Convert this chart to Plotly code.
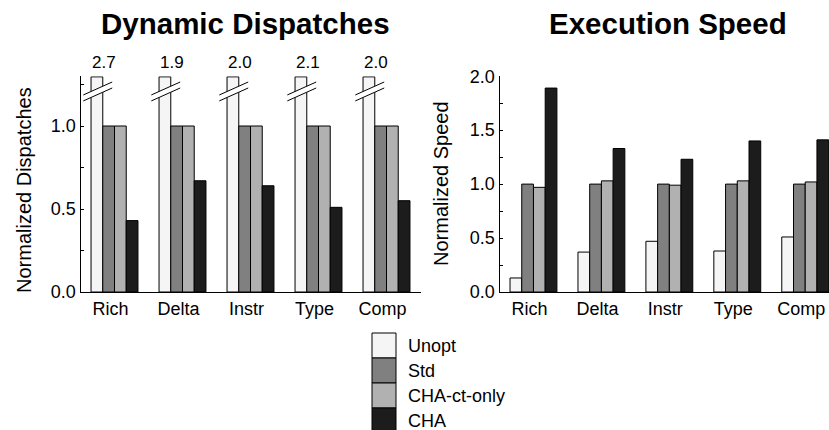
import numpy as np
import plotly.graph_objects as go

# ---------------- data ----------------
categories = ["Rich", "Delta", "Instr", "Type", "Comp"]
series_names = ["Unopt", "Std", "CHA-ct-only", "CHA"]

disp_unopt = [2.7, 1.9, 2.0, 2.1, 2.0]
disp_std = [1.0, 1.0, 1.0, 1.0, 1.0]
disp_chact = [1.0, 1.0, 1.0, 1.0, 1.0]
disp_cha = [0.43, 0.67, 0.64, 0.51, 0.55]

speed_unopt = [0.13, 0.37, 0.47, 0.38, 0.51]
speed_std = [1.0, 1.0, 1.0, 1.0, 1.0]
speed_chact = [0.97, 1.03, 0.99, 1.03, 1.02]
speed_cha = [1.89, 1.33, 1.23, 1.40, 1.41]

disp_label_text = ["2.7", "1.9", "2.0", "2.1", "2.0"]

# ---------------- style ----------------
colors = ["#f5f5f5", "#808080", "#b1b1b1", "#1c1c1c"]
FONT = "Liberation Sans, Arial, Helvetica, sans-serif"
W, H = 829, 430
BARGAP = 0.31
LEFT_TOP = 1.3
CAP = 1.296  # visible height of clipped (broken) bars

xpos = np.arange(len(categories))

def px_x(p):
    return p / W

def px_y(p):
    return 1 - p / H

fig = go.Figure()

disp_series = [np.minimum(disp_unopt, CAP), disp_std, disp_chact, disp_cha]
disp_true = [disp_unopt, disp_std, disp_chact, disp_cha]
speed_series = [speed_unopt, speed_std, speed_chact, speed_cha]

for k, name in enumerate(series_names):
    fig.add_trace(go.Bar(
        x=xpos, y=disp_series[k], name=name, customdata=disp_true[k],
        hovertemplate="%{customdata}<extra>" + name + "</extra>",
        marker=dict(color=colors[k], line=dict(color="black", width=1)),
        xaxis="x", yaxis="y", offsetgroup=str(k), showlegend=False))
for k, name in enumerate(series_names):
    fig.add_trace(go.Bar(
        x=xpos, y=speed_series[k], name=name,
        marker=dict(color=colors[k], line=dict(color="black", width=1)),
        xaxis="x2", yaxis="y2", offsetgroup=str(k), showlegend=False))

ydom = [px_y(292), px_y(76.2)]

axis_common = dict(showline=True, linecolor="black", linewidth=1,
                   showgrid=False, zeroline=False, automargin=False,
                   tickfont=dict(size=18, color="black", family=FONT))

fig.update_layout(
    width=W, height=H,
    margin=dict(l=0, r=0, t=0, b=0, pad=0),
    paper_bgcolor="white", plot_bgcolor="white",
    barmode="group", bargap=BARGAP, bargroupgap=0,
    font=dict(family=FONT, color="black"),
    xaxis=dict(domain=[px_x(80.5), px_x(420.5)], range=[-0.5, 4.5],
               tickvals=list(xpos), ticktext=categories, ticks="",
               ticklabelshift=-4,
               anchor="y", **axis_common),
    yaxis=dict(domain=ydom, range=[0, LEFT_TOP], tickvals=[0, 0.5, 1.0],
               ticktext=["0.0", "0.5", "1.0"], ticks="inside", ticklen=3,
               minor=dict(tickvals=[0.25, 0.75, 1.25], ticks="inside", ticklen=3,
                          tickcolor="black"),
               tickcolor="black", anchor="x", **axis_common),
    xaxis2=dict(domain=[px_x(499.5), 1.0], range=[-0.5, 4.35],
                tickvals=list(xpos), ticktext=categories, ticks="",
                ticklabeloverflow="allow", ticklabelshift=-4,
                anchor="y2", **axis_common),
    yaxis2=dict(domain=ydom, range=[0, 2.0], tickvals=[0, 0.5, 1.0, 1.5, 2.0],
                ticktext=["0.0", "0.5", "1.0", "1.5", "2.0"], ticks="inside",
                ticklen=3,
                minor=dict(tickvals=[0.25, 0.75, 1.25, 1.75], ticks="inside",
                           ticklen=3, tickcolor="black"),
                tickcolor="black", anchor="x2", **axis_common),
)

annotations = []
shapes = []

# titles
annotations.append(dict(text="<b>Dynamic Dispatches</b>", x=px_x(245), y=px_y(23),
                        xref="paper", yref="paper", showarrow=False,
                        font=dict(size=29.5, family=FONT, color="black"),
                        xanchor="center", yanchor="middle"))
annotations.append(dict(text="<b>Execution Speed</b>", x=px_x(668), y=px_y(23),
                        xref="paper", yref="paper", showarrow=False,
                        font=dict(size=29.5, family=FONT, color="black"),
                        xanchor="center", yanchor="middle"))
# y-axis titles
annotations.append(dict(text="Normalized Dispatches", x=px_x(24), y=px_y(190),
                        xref="paper", yref="paper", showarrow=False, textangle=-90,
                        font=dict(size=20, family=FONT, color="black"),
                        xanchor="center", yanchor="middle"))
annotations.append(dict(text="Normalized Speed", x=px_x(441), y=px_y(184),
                        xref="paper", yref="paper", showarrow=False, textangle=-90,
                        font=dict(size=20, family=FONT, color="black"),
                        xanchor="center", yanchor="middle"))

# broken-bar markers and value labels for Unopt dispatches
group_w = 1 - BARGAP
bar_w = group_w / len(series_names)
for i, v in enumerate(disp_unopt):
    c = xpos[i] - group_w / 2 + bar_w / 2
    if v > LEFT_TOP:
        x0, x1 = c - 0.20, c + 0.225
        lo0, lo1 = 1.151, 1.229
        hi0, hi1 = 1.187, 1.265
        shapes.append(dict(type="path", xref="x", yref="y",
                           path=f"M {x0},{lo0} L {x1},{lo1} L {x1},{hi1} L {x0},{hi0} Z",
                           fillcolor="white", line=dict(width=0)))
        shapes.append(dict(type="line", xref="x", yref="y", x0=x0, y0=lo0, x1=x1, y1=lo1,
                           line=dict(color="black", width=1)))
        shapes.append(dict(type="line", xref="x", yref="y", x0=x0, y0=hi0, x1=x1, y1=hi1,
                           line=dict(color="black", width=1)))
    annotations.append(dict(text=disp_label_text[i], x=c, y=px_y(62), xref="x",
                            yref="paper", showarrow=False, xshift=7,
                            font=dict(size=17, family=FONT, color="black"),
                            xanchor="center", yanchor="middle"))

# custom legend (large swatches)
box_x0, box_x1 = 372, 396
row_top = 333
row_h = 25
for k, name in enumerate(series_names):
    y0 = row_top + k * row_h
    shapes.append(dict(type="rect", xref="paper", yref="paper",
                       x0=px_x(box_x0), x1=px_x(box_x1),
                       y0=px_y(y0 + row_h), y1=px_y(y0),
                       fillcolor=colors[k], line=dict(color="black", width=1)))
    annotations.append(dict(text=name, x=px_x(406), y=px_y(y0 + row_h / 2),
                            xref="paper", yref="paper", showarrow=False,
                            font=dict(size=18, family=FONT, color="black"),
                            xanchor="left", yanchor="middle"))

fig.update_layout(annotations=annotations, shapes=shapes)
fig.write_html("out.html",
               config={"displayModeBar": False},
               post_script="document.body.style.margin='0';"
                           "document.body.style.overflow='hidden';")
